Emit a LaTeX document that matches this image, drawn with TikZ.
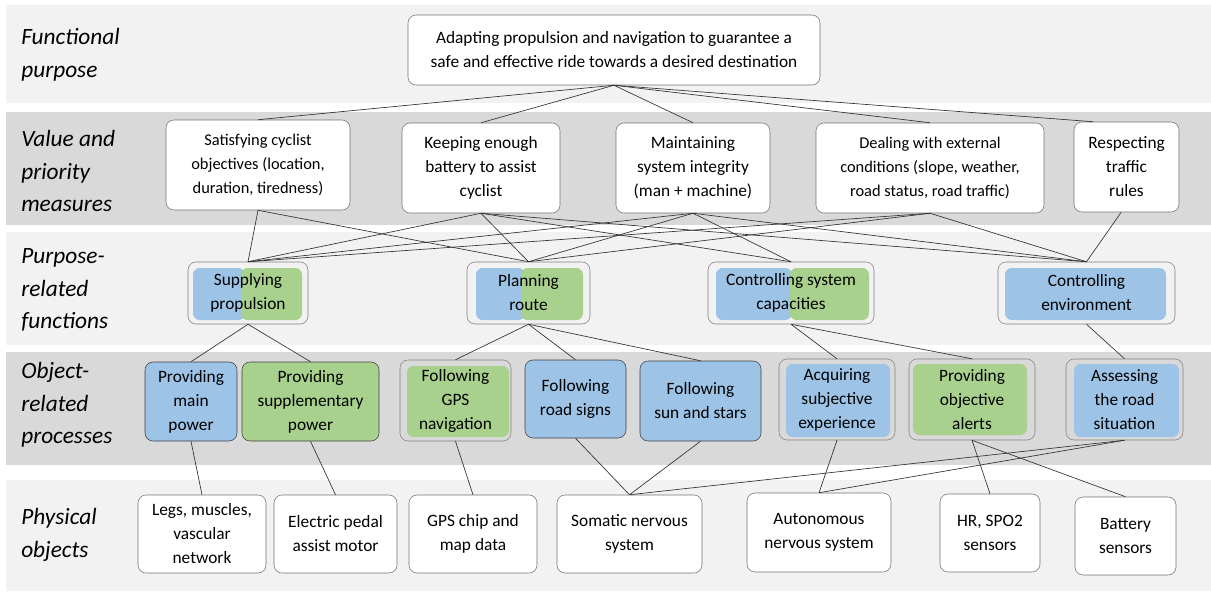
\documentclass[tikz,border=0pt]{standalone}
\usepackage{fontspec}
\setmainfont{Carlito}
\definecolor{cblue}{HTML}{9DC3E6}
\definecolor{cgreen}{HTML}{A9D18E}
\definecolor{bandL}{HTML}{F2F2F2}
\definecolor{bandD}{HTML}{D9D9D9}
\newcommand\boxfont{\fontsize{13}{18}\selectfont}
\newcommand\smallboxfont{\fontsize{12.3}{18}\selectfont}
\newcommand\labfont{\fontsize{17.5}{24.5}\selectfont\itshape}
\newcommand\mybox[7]{\node[#6, minimum width={(#4-(#2))*0.75pt}, minimum height={(#5-(#3))*0.75pt}] (#1) at ({(#2+#4)/2},{(#3+#5)/2}) {#7};}
\newcommand\ibox[5]{\fill[#1, rounded corners=5pt] (#2,#3) rectangle (#4,#5);}
\begin{document}
\begin{tikzpicture}[x=0.75pt,y=-0.75pt,
  box/.style={draw=black!55, fill=white, rounded corners=6pt, align=center, inner sep=2pt, font=\boxfont},
  cont/.style={draw=black!50, rounded corners=6pt, align=center, inner sep=2pt, font=\boxfont},
  bluebox/.style={draw=black!75, fill=cblue, rounded corners=6pt, align=center, inner sep=2pt, font=\boxfont},
  greenbox/.style={draw=black!75, fill=cgreen, rounded corners=6pt, align=center, inner sep=2pt, font=\boxfont},
  lab/.style={anchor=west, align=left, font=\labfont, inner sep=0pt},
  link/.style={draw=black!80, line width=0.5pt}]
\useasboundingbox (0,0) rectangle (1211,593);
% bands
\fill[bandL] (6,5) rectangle (1211,103);
\fill[bandD] (6,112) rectangle (1211,225);
\fill[bandL] (6,232) rectangle (1211,345);
\fill[bandD] (6,352) rectangle (1211,465);
\fill[bandL] (6,480) rectangle (1211,591);
% level labels
\node[lab] (LF) at (21,55) {Functional\\purpose};
\node[lab] (LV) at (21,171) {Value and\\priority\\measures};
\node[lab] (LP) at (21,290) {Purpose-\\related\\functions};
\node[lab] (LO) at (21,405) {Object-\\related\\processes};
\node[lab] (LPh) at (21,535) {Physical\\objects};
% functional purpose
\mybox{T}{408}{15}{820}{85}{box}{Adapting propulsion and navigation to guarantee a\\safe and effective ride towards a desired destination}
% values
\mybox{V1}{166}{120}{350}{210}{box,font=\smallboxfont}{Satisfying cyclist\\objectives (location,\\duration, tiredness)}
\mybox{V2}{402}{123}{560}{213}{box}{Keeping enough\\battery to assist\\cyclist}
\mybox{V3}{616}{123}{770}{213}{box}{Maintaining\\system integrity\\(man + machine)}
\mybox{V4}{816}{123}{1044}{213}{box,font=\smallboxfont}{Dealing with external\\conditions (slope, weather,\\road status, road traffic)}
\mybox{V5}{1074}{122}{1179}{212}{box}{Respecting\\traffic\\rules}
% purpose-related functions
\ibox{cblue}{193}{268}{245}{320}
\ibox{cgreen}{241}{268}{302}{320}
\mybox{P1}{188}{262}{308}{324}{cont}{Supplying\\propulsion}
\ibox{cblue}{476}{268}{525}{320}
\ibox{cgreen}{521}{268}{583}{320}
\mybox{P2}{467}{262}{590}{324}{cont}{Planning\\route}
\ibox{cblue}{716}{268}{792}{320}
\ibox{cgreen}{790}{268}{869}{320}
\mybox{P3}{708}{262}{874}{324}{cont}{Controlling system\\capacities}
\ibox{cblue}{1005}{268}{1166}{320}
\mybox{P4}{998}{262}{1175}{324}{cont}{Controlling\\environment}
% object-related processes
\mybox{O1}{145}{362}{237}{441}{bluebox}{Providing\\main\\power}
\mybox{O2}{242}{362}{379}{441}{greenbox}{Providing\\supplementary\\power}
\ibox{cgreen}{407}{366}{509}{437}
\mybox{O3}{400}{360}{511}{441}{cont}{Following\\GPS\\navigation}
\mybox{O4}{525}{360}{626}{438}{bluebox}{Following\\road signs}
\mybox{O5}{640}{361}{761}{441}{bluebox}{Following\\sun and stars}
\ibox{cblue}{786}{364}{890}{437}
\mybox{O6}{779}{359}{895}{440}{cont}{Acquiring\\subjective\\experience}
\ibox{cgreen}{913}{364}{1027}{435}
\mybox{O7}{909}{359}{1035}{440}{cont}{Providing\\objective\\alerts}
\ibox{cblue}{1074}{364}{1179}{437}
\mybox{O8}{1066}{359}{1183}{440}{cont}{Assessing\\the road\\situation}
% physical objects
\mybox{Ph1}{138}{495}{266}{573}{box}{Legs, muscles,\\vascular\\network}
\mybox{Ph2}{274}{495}{397}{573}{box}{Electric pedal\\assist motor}
\mybox{Ph3}{409}{495}{537}{573}{box}{GPS chip and\\map data}
\mybox{Ph4}{557}{495}{702}{573}{box}{Somatic nervous\\system}
\mybox{Ph5}{747}{493}{891}{572}{box}{Autonomous\\nervous system}
\mybox{Ph6}{940}{494}{1040}{572}{box}{HR, SPO2\\sensors}
\mybox{Ph7}{1075}{497}{1176}{575}{box}{Battery\\sensors}
% connectors: purpose -> values
\foreach \v in {V1,V2,V3,V4} \draw[link] (T.south) -- (\v.north);
\draw[link] (T.south) -- ([xshift=-25pt]V5.north);
% values -> functions
\draw[link] (V1.south) -- (P1.north);
\draw[link] (V1.south) -- (P2.north);
\foreach \p in {P1,P2,P3,P4} \draw[link] (V2.south) -- (\p.north);
\foreach \p in {P1,P2,P3,P4} \draw[link] (V3.south) -- (\p.north);
\foreach \p in {P1,P2,P4} \draw[link] (V4.south) -- (\p.north);
\draw[link] ([xshift=-4pt]V5.south) -- (P4.north);
% functions -> processes
\draw[link] (P1.south) -- (O1.north);
\draw[link] (P1.south) -- (O2.north);
\draw[link] (P2.south) -- (O3.north);
\draw[link] (P2.south) -- (O4.north);
\draw[link] (P2.south) -- (O5.north);
\draw[link] (P3.south) -- (O6.north);
\draw[link] (P3.south) -- (O7.north);
\draw[link] (P4.south) -- (O8.north);
% processes -> physical objects
\draw[link] (O1.south) -- (Ph1.north);
\draw[link] (O2.south) -- (Ph2.north);
\draw[link] (O3.south) -- (Ph3.north);
\draw[link] (O4.south) -- (Ph4.north);
\draw[link] (O5.south) -- (Ph4.north);
\draw[link] (O6.south) -- (Ph5.north);
\draw[link] (O7.south) -- (Ph6.north);
\draw[link] (O7.south) -- (Ph7.north);
\draw[link] (O8.south) -- (Ph4.north);
\draw[link] (O8.south) -- (Ph5.north);
\end{tikzpicture}
\end{document}
